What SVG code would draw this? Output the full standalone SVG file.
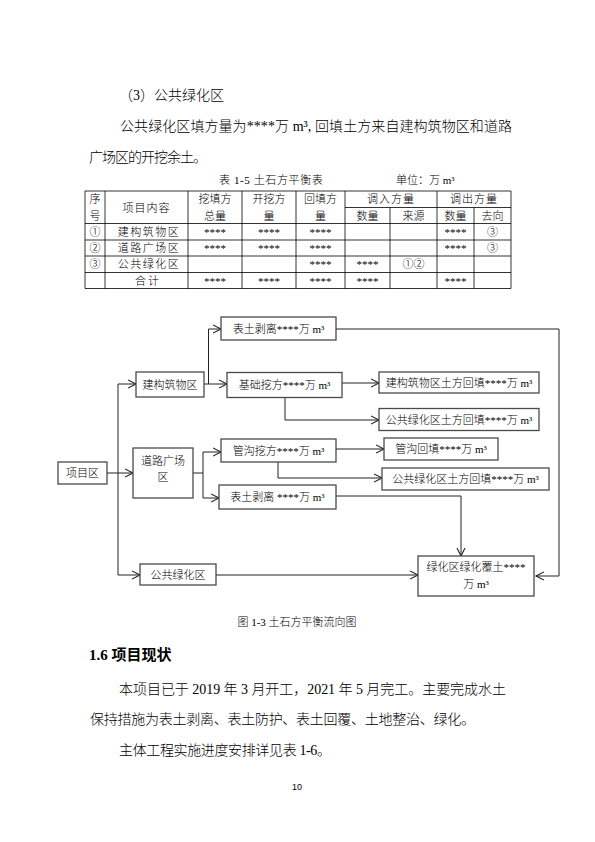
<svg xmlns="http://www.w3.org/2000/svg" width="595" height="842" viewBox="0 0 595 842">
<style>
text{font-family:"Liberation Serif","Noto Sans CJK SC",serif;fill:#000;font-weight:300}
.body{font-size:14px}
.t{font-size:11px}
.c{text-anchor:middle}
.box{fill:#fff;stroke:#4a4a4a;stroke-width:1.3}
.grid line{stroke:#000;stroke-width:0.8}
.conn path{fill:none;stroke:#222;stroke-width:1;marker-end:url(#ah)}
.h{font-size:15px;font-weight:bold}
.pn{font-family:"Liberation Sans",sans-serif;font-size:9px;text-anchor:middle}
</style>
<defs>
<marker id="ah" markerUnits="userSpaceOnUse" markerWidth="10" markerHeight="10" refX="8" refY="4" orient="auto" viewBox="0 0 10 8">
<path d="M0,0 L8,4 L0,8" fill="none" stroke="#222" stroke-width="1.1"/>
</marker>
</defs>
<rect width="595" height="842" fill="#fff"/>

<!-- top text -->
<text class="body" x="119" y="100">（3）公共绿化区</text>
<text class="body" x="120" y="131" textLength="392" lengthAdjust="spacing">公共绿化区填方量为****万 m³, 回填土方来自建构筑物区和道路</text>
<text class="body" x="89" y="162" textLength="118" lengthAdjust="spacing">广场区的开挖余土。</text>

<!-- table caption -->
<text class="t" x="219" y="184" letter-spacing="0.6">表 1-5  土石方平衡表</text>
<text class="t" x="396" y="184">单位：万 m³</text>

<!-- table -->
<g id="table">
<g class="grid">
<line x1="85" y1="191" x2="511" y2="191"/>
<line x1="345" y1="207.5" x2="511" y2="207.5"/>
<line x1="85" y1="223.5" x2="511" y2="223.5"/>
<line x1="85" y1="240" x2="511" y2="240"/>
<line x1="85" y1="256" x2="511" y2="256"/>
<line x1="85" y1="272.5" x2="511" y2="272.5"/>
<line x1="85" y1="288.5" x2="511" y2="288.5"/>
<line x1="85" y1="191" x2="85" y2="288.5"/>
<line x1="105" y1="191" x2="105" y2="288.5"/>
<line x1="188" y1="191" x2="188" y2="288.5"/>
<line x1="242" y1="191" x2="242" y2="288.5"/>
<line x1="296" y1="191" x2="296" y2="288.5"/>
<line x1="345" y1="191" x2="345" y2="288.5"/>
<line x1="390" y1="207.5" x2="390" y2="288.5"/>
<line x1="437" y1="191" x2="437" y2="288.5"/>
<line x1="474" y1="207.5" x2="474" y2="288.5"/>
<line x1="511" y1="191" x2="511" y2="288.5"/>
</g>
<g>
<text class="t c" x="95" y="203">序</text>
<text class="t c" x="95" y="219.5">号</text>
<text class="t c" x="146.5" y="211.5" letter-spacing="1">项目内容</text>
<text class="t c" x="215" y="203">挖填方</text>
<text class="t c" x="215" y="219.5">总量</text>
<text class="t c" x="269" y="203">开挖方</text>
<text class="t c" x="269" y="219.5">量</text>
<text class="t c" x="320.5" y="203">回填方</text>
<text class="t c" x="320.5" y="219.5">量</text>
<text class="t c" x="391" y="203" letter-spacing="1">调入方量</text>
<text class="t c" x="367.5" y="219.5">数量</text>
<text class="t c" x="413.5" y="219.5">来源</text>
<text class="t c" x="474" y="203" letter-spacing="1">调出方量</text>
<text class="t c" x="455.5" y="219.5">数量</text>
<text class="t c" x="492.5" y="219.5">去向</text>

<text class="t c" x="95" y="236">①</text>
<text class="t c" x="149" y="236" letter-spacing="1.5">建构筑物区</text>
<text class="t c" x="215" y="236">****</text>
<text class="t c" x="269" y="236">****</text>
<text class="t c" x="320.5" y="236">****</text>
<text class="t c" x="455.5" y="236">****</text>
<text class="t c" x="492.5" y="236">③</text>

<text class="t c" x="95" y="252">②</text>
<text class="t c" x="149" y="252" letter-spacing="1.5">道路广场区</text>
<text class="t c" x="215" y="252">****</text>
<text class="t c" x="269" y="252">****</text>
<text class="t c" x="320.5" y="252">****</text>
<text class="t c" x="455.5" y="252">****</text>
<text class="t c" x="492.5" y="252">③</text>

<text class="t c" x="95" y="268">③</text>
<text class="t c" x="149" y="268" letter-spacing="1.5">公共绿化区</text>
<text class="t c" x="320.5" y="268">****</text>
<text class="t c" x="367.5" y="268">****</text>
<text class="t c" x="413.5" y="268">①②</text>

<text class="t c" x="148" y="284.5" letter-spacing="2">合计</text>
<text class="t c" x="215" y="284.5">****</text>
<text class="t c" x="269" y="284.5">****</text>
<text class="t c" x="320.5" y="284.5">****</text>
<text class="t c" x="367.5" y="284.5">****</text>
<text class="t c" x="455.5" y="284.5">****</text>
</g>
</g>

<!-- flowchart connectors -->
<g id="connectors" class="conn">
<path d="M107,473 H133"/>
<path d="M118,473 V384 H136"/>
<path d="M118,473 V575 H140"/>
<path d="M204,384 H208.5 V329 H221"/>
<path d="M208.5,384 H227"/>
<path d="M336,329 H559 V576 H536"/>
<path d="M342,383 H379"/>
<path d="M285,397.5 V420 H379"/>
<path d="M193,473 H203 V452 H221"/>
<path d="M203,473 V498 H219"/>
<path d="M336,449 H384"/>
<path d="M278,462 V478 H382"/>
<path d="M336,496 H461 V556"/>
<path d="M216,575 H418"/>
</g>

<!-- nodes -->
<g id="n-biaotu1"><rect class="box" x="221" y="317" width="115" height="23"/><text class="t c" x="278.5" y="332.5">表土剥离****万 m³</text></g>
<g id="n-jiangou"><rect class="box" x="136" y="372" width="68" height="25"/><text class="t c" x="170" y="388.5">建构筑物区</text></g>
<g id="n-jichu"><rect class="box" x="227" y="372.5" width="115" height="25"/><text class="t c" x="284.5" y="389">基础挖方****万 m³</text></g>
<g id="n-jghuitian"><rect class="box" x="379" y="372" width="160" height="21"/><text class="t c" x="459" y="386.5">建构筑物区土方回填****万 m³</text></g>
<g id="n-gghuitian1"><rect class="box" x="379" y="408.5" width="160" height="22"/><text class="t c" x="459" y="423.5">公共绿化区土方回填****万 m³</text></g>
<g id="n-guangou"><rect class="box" x="221" y="439" width="115" height="23"/><text class="t c" x="278.5" y="454.5">管沟挖方****万 m³</text></g>
<g id="n-gghuitian"><rect class="box" x="384" y="438" width="114" height="22"/><text class="t c" x="441" y="453">管沟回填****万 m³</text></g>
<g id="n-gghuitian2"><rect class="box" x="382" y="468" width="167" height="22"/><text class="t c" x="465.5" y="483">公共绿化区土方回填****万 m³</text></g>
<g id="n-xiangmu"><rect class="box" x="58" y="462" width="49" height="22"/><text class="t c" x="82.5" y="477">项目区</text></g>
<g id="n-daolu"><rect class="box" x="133" y="448" width="60" height="50"/><text class="t c" x="163" y="465">道路广场</text><text class="t c" x="163" y="481">区</text></g>
<g id="n-biaotu2"><rect class="box" x="219" y="485" width="117" height="24"/><text class="t c" x="277.5" y="501">表土剥离 ****万 m³</text></g>
<g id="n-gonggong"><rect class="box" x="140" y="564" width="76" height="21"/><text class="t c" x="178" y="578.5">公共绿化区</text></g>
<g id="n-lvhua"><rect class="box" x="418" y="556" width="116" height="40"/><text class="t c" x="476" y="571">绿化区绿化覆土****</text><text class="t c" x="476" y="588">万 m³</text></g>

<!-- bottom text -->
<text class="t c" x="297" y="626">图 1-3  土石方平衡流向图</text>
<text class="h" x="89" y="660">1.6  项目现状</text>
<text class="body" x="119" y="694" textLength="387" lengthAdjust="spacing">本项目已于 2019 年 3 月开工，2021 年 5 月完工。主要完成水土</text>
<text class="body" x="90" y="724" textLength="385" lengthAdjust="spacing">保持措施为表土剥离、表土防护、表土回覆、土地整治、绿化。</text>
<text class="body" x="119" y="755" textLength="212" lengthAdjust="spacing">主体工程实施进度安排详见表 1-6。</text>
<text class="pn" x="297" y="790">10</text>
</svg>
